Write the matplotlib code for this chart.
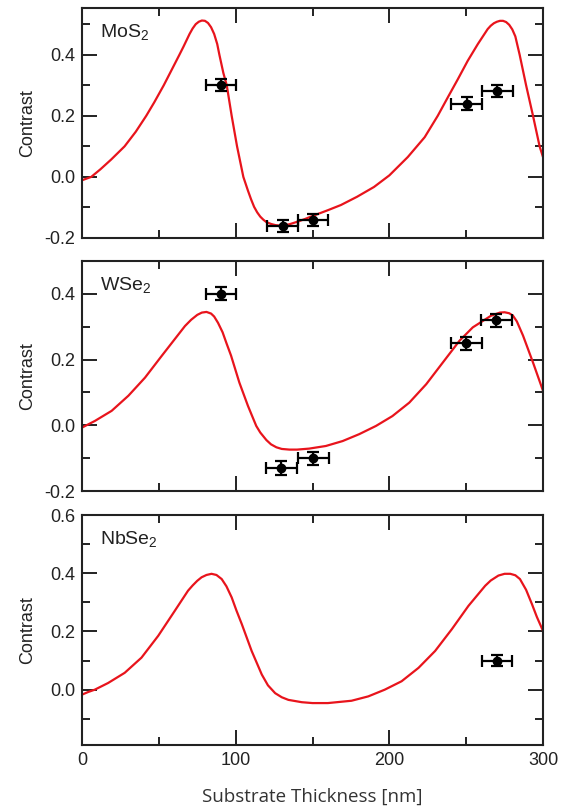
import matplotlib
matplotlib.use("Agg")
import matplotlib.pyplot as plt
from matplotlib.ticker import MultipleLocator, FormatStrFormatter

plt.rcParams["font.family"] = ["Liberation Sans", "DejaVu Sans"]
plt.rcParams["mathtext.fontset"] = "custom"
plt.rcParams["mathtext.rm"] = "Liberation Sans"
plt.rcParams["mathtext.default"] = "regular"

# --- model curves ---
mos2_x = [0, 6, 12, 19, 27.7, 35, 41.8, 47, 53.2, 58, 63.4, 66, 68, 70, 72, 74, 76,
          78, 80, 82, 84, 86, 88, 89.4, 92, 94.2, 97.4, 100.9, 105, 108, 110, 112,
          114, 116, 118, 120, 123, 126, 130, 135, 140, 145, 150, 160, 168.5, 179,
          190, 200, 212, 223, 231.5, 238, 244.6, 251, 257.6, 264, 266, 268, 270,
          272, 274, 276, 278, 280, 282, 284.8, 289, 293.5, 297.8, 300]
mos2_y = [-0.011, 0.0, 0.025, 0.057, 0.1, 0.148, 0.2, 0.244, 0.3, 0.347, 0.4, 0.426,
          0.447, 0.468, 0.486, 0.5, 0.508, 0.512, 0.511, 0.504, 0.49, 0.468, 0.435,
          0.4, 0.34, 0.3, 0.2, 0.1, 0.0, -0.045, -0.073, -0.098, -0.116, -0.13,
          -0.14, -0.148, -0.154, -0.158, -0.16, -0.155, -0.147, -0.138, -0.128,
          -0.109, -0.092, -0.065, -0.033, 0.005, 0.065, 0.13, 0.2, 0.26, 0.32, 0.38,
          0.435, 0.484, 0.495, 0.503, 0.508, 0.511, 0.511, 0.507, 0.498, 0.483,
          0.46, 0.4, 0.3, 0.2, 0.1, 0.065]

wse2_x = [0, 8.3, 19.3, 30.2, 41, 52, 63, 67, 71, 75, 78, 81, 84, 86, 88.5, 91.5,
          94, 97, 102.4, 108, 111, 113.4, 116, 120, 123, 126.5, 130, 135, 140,
          147.8, 158.7, 169.6, 180.4, 191.3, 202, 213, 224, 234.8, 245.6, 254.3,
          263, 266, 269.6, 272, 275, 278, 280.4, 283, 287, 293.5, 300]
wse2_y = [-0.007, 0.013, 0.044, 0.09, 0.145, 0.212, 0.278, 0.302, 0.321, 0.336,
          0.343, 0.345, 0.34, 0.331, 0.312, 0.283, 0.25, 0.212, 0.13, 0.059, 0.025,
          -0.002, -0.022, -0.045, -0.058, -0.067, -0.072, -0.074, -0.074, -0.071,
          -0.063, -0.048, -0.027, -0.002, 0.028, 0.069, 0.125, 0.191, 0.257, 0.298,
          0.324, 0.333, 0.339, 0.343, 0.344, 0.341, 0.334, 0.316, 0.273, 0.191,
          0.105]

nbse2_x = [0, 4, 8.3, 17, 27.8, 38.7, 49.6, 60.4, 69, 72, 75, 77.8, 81, 84.3, 87.5,
           90.9, 94, 97.4, 100.5, 104, 110.4, 117, 121, 125.7, 130, 134.3, 143, 150,
           160, 175.4, 186.3, 197, 208, 219, 229.8, 240.7, 251.5, 262.4, 266, 271,
           275, 278.7, 282, 285, 289, 292.8, 296, 300]
nbse2_y = [-0.017, -0.008, 0.0, 0.023, 0.058, 0.11, 0.185, 0.271, 0.34, 0.358,
           0.374, 0.386, 0.394, 0.398, 0.394, 0.38, 0.355, 0.317, 0.272, 0.225,
           0.133, 0.052, 0.015, -0.012, -0.026, -0.035, -0.043, -0.046, -0.046,
           -0.038, -0.023, 0.0, 0.029, 0.075, 0.133, 0.208, 0.288, 0.357, 0.375,
           0.392, 0.398, 0.398, 0.393, 0.38, 0.343, 0.294, 0.25, 0.202]

# --- measured points ---
mos2_px = [90.5, 130.5, 150.4, 250.4, 270.2]
mos2_py = [0.30, -0.16, -0.14, 0.24, 0.28]
wse2_px = [90.4, 129.8, 150.5, 250, 269.6]
wse2_py = [0.40, -0.13, -0.10, 0.25, 0.32]
nbse2_px = [270]
nbse2_py = [0.10]
x_err = 10
y_err = 0.02

panels = [
    ("MoS$_2$", mos2_x, mos2_y, mos2_px, mos2_py, (-0.2, 0.553)),
    ("WSe$_2$", wse2_x, wse2_y, wse2_px, wse2_py, (-0.2, 0.5)),
    ("NbSe$_2$", nbse2_x, nbse2_y, nbse2_px, nbse2_py, (-0.19, 0.6)),
]

fig = plt.figure(figsize=(5.63, 8.09), dpi=100)
left, width, height = 82 / 563, 461 / 563, 230 / 809
bottoms = [1 - 238 / 809, 1 - 491 / 809, 1 - 745 / 809]

for i, (name, cx, cy, px, py, ylim) in enumerate(panels):
    ax = fig.add_axes([left, bottoms[i], width, height])
    ax.plot(cx, cy, color="#e8141c", linewidth=1.6, solid_joinstyle="round", zorder=2)
    ax.errorbar(px, py, xerr=x_err, yerr=y_err, fmt="o", color="black",
                markersize=6, elinewidth=1.6, capsize=4, capthick=1.6, zorder=3)

    ax.set_xlim(0, 300)
    ax.set_ylim(*ylim)
    ax.xaxis.set_major_locator(MultipleLocator(100))
    ax.xaxis.set_minor_locator(MultipleLocator(50))
    ax.yaxis.set_major_locator(MultipleLocator(0.2))
    ax.yaxis.set_minor_locator(MultipleLocator(0.1))
    ax.yaxis.set_major_formatter(FormatStrFormatter("%.1f"))
    ax.tick_params(which="both", direction="in", top=True, right=True,
                   width=1.4, labelsize=13, colors="#222222", pad=5)
    ax.tick_params(which="major", length=11)
    ax.tick_params(which="minor", length=5.5)
    for sp in ax.spines.values():
        sp.set_linewidth(1.5)
        sp.set_color("#222222")

    ax.set_ylabel("Contrast", fontsize=13, color="#222222")
    ax.yaxis.set_label_coords(-0.1, 0.5)
    ax.text(0.038, 0.875, name, transform=ax.transAxes, fontsize=14,
            color="#222222", va="baseline", ha="left")

    if i < 2:
        ax.tick_params(labelbottom=False)
    else:
        ax.set_xlabel("Substrate Thickness [nm]", fontsize=13.5,
                      family=["Open Sans", "DejaVu Sans"], color="#333333")
        ax.xaxis.set_label_coords(0.5, -0.185)

fig.savefig("out.png", dpi=100)
